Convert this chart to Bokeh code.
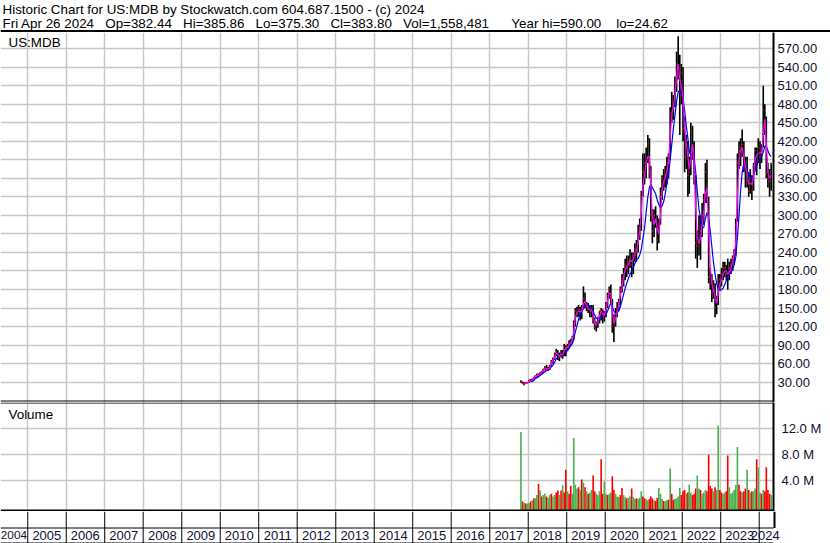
import numpy as np
import pandas as pd
from bokeh.plotting import figure
from bokeh.layouts import column
from bokeh.models import Range1d, LinearAxis, FixedTicker, Grid, PrintfTickFormatter, ColumnDataSource, Span
from bokeh.core.properties import value
from bokeh.embed import file_html
from bokeh.resources import INLINE

# ---------------- data ----------------
title_line = "Historic Chart for US:MDB by Stockwatch.com 604.687.1500 - (c) 2024"
quote_day = "Fri Apr 26 2024"
quote_fields = [("Op", "382.44"), ("Hi", "385.86"), ("Lo", "375.30"), ("Cl", "383.80"),
                ("Vol", "1,558,481"), ("Year hi", "590.00"), ("lo", "24.62")]
symbol = "US:MDB"
volume_title = "Volume"

first_period = "2017-10-16"   # semi-monthly periods (1st / 16th of month)

high = [33, 31, 30, 30, 30,
        34, 35, 36, 38, 41, 44, 44, 46, 48, 52, 56, 58, 55, 58, 66, 70, 78, 84, 82, 78, 82, 82, 92, 90,
        92, 98, 100, 105, 130, 150, 152, 155, 152, 155, 185, 175, 160, 158, 155, 155, 155, 135, 128, 135, 145, 150, 148, 145,
        160, 175, 185, 188, 165, 140, 150, 160, 165, 185, 205, 215, 230, 235, 235, 245, 240, 240, 255, 260, 285, 295, 340, 400,
        400, 410, 430, 425, 380, 310, 310, 315, 300, 295, 345, 365, 375, 380, 395, 400, 475, 500, 495, 525, 565, 590, 560, 545,
        540, 460, 430, 420, 395, 450, 445, 420, 365, 275, 300, 300, 320, 335, 385, 390, 330, 215, 205, 195, 190, 170, 205, 205,
        215, 225, 225, 220, 230, 225, 230, 235, 245, 295, 400, 420, 425, 439, 420, 395, 395, 370, 375, 365, 385, 410, 410, 425,
        420, 415, 510, 480, 460, 385, 375, 385]
low = [29, 27, 25, 27, 28,
       29, 31, 31, 33, 36, 38, 38, 40, 43, 45, 49, 49, 48, 50, 55, 60, 66, 72, 66, 64, 70, 68, 72, 72,
       80, 84, 88, 94, 98, 120, 135, 136, 130, 132, 148, 150, 145, 142, 135, 135, 125, 115, 112, 118, 125, 130, 125, 128,
       135, 150, 165, 155, 110, 95, 120, 135, 145, 155, 175, 185, 195, 200, 205, 215, 200, 205, 225, 225, 240, 260, 275, 330,
       350, 360, 385, 360, 290, 255, 265, 280, 243, 255, 285, 325, 340, 345, 350, 360, 390, 450, 455, 475, 500, 520, 430, 480,
       420, 370, 375, 330, 335, 365, 390, 350, 230, 215, 235, 228, 265, 285, 320, 320, 190, 180, 160, 165, 135, 140, 155, 180,
       185, 195, 200, 195, 180, 195, 205, 210, 220, 235, 290, 375, 380, 395, 370, 345, 345, 330, 335, 325, 340, 375, 365, 385,
       375, 385, 410, 430, 360, 345, 330, 340]
close = [30, 28, 27, 29, 29.5,
         33, 33, 34, 37, 40, 42, 41, 45, 46, 50, 53, 51, 52, 55, 64, 66, 75, 80, 70, 72, 78, 72, 88, 84,
         88, 92, 96, 100, 125, 145, 142, 148, 140, 150, 165, 158, 152, 148, 145, 150, 130, 120, 125, 135, 145, 145, 135, 140,
         155, 170, 180, 165, 120, 130, 140, 150, 160, 180, 195, 205, 220, 215, 225, 230, 220, 235, 245, 240, 270, 280, 330, 370,
         385, 380, 415, 370, 300, 275, 300, 290, 260, 285, 330, 360, 355, 365, 385, 385, 465, 470, 480, 515, 545, 540, 500, 530,
         440, 395, 415, 365, 370, 435, 405, 360, 255, 250, 255, 275, 300, 325, 370, 330, 200, 190, 175, 185, 150, 160, 195, 197,
         205, 215, 215, 205, 200, 215, 220, 230, 240, 285, 385, 405, 410, 415, 375, 385, 355, 340, 360, 340, 380, 405, 385, 410,
         395, 405, 470, 445, 370, 360, 355, 383.8]
ma_fast = [np.nan, np.nan, 28.5, 28, 29,
           31, 33, 33.5, 35.5, 38.5, 41, 41.5, 43, 45.5, 48, 51.5, 52, 51.5, 53.5, 59.5, 65, 70.5, 77.5, 75, 71, 75, 75, 80, 86,
           86, 90, 94, 98, 112, 135, 143, 145, 144, 145, 157, 161, 155, 150, 147, 147, 140, 125, 122, 128, 138, 145, 140, 138,
           148, 162, 175, 172, 145, 125, 133, 143, 155, 170, 185, 200, 212, 218, 220, 228, 225, 228, 240, 243, 255, 275, 305, 350,
           365, 385, 395, 395, 345, 300, 285, 295, 280, 270, 300, 340, 355, 360, 372, 385, 425, 465, 475, 495, 525, 545, 520, 510,
           490, 440, 415, 395, 375, 390, 415, 385, 310, 265, 255, 262, 285, 305, 335, 345, 280, 215, 190, 180, 168, 158, 175, 190,
           195, 205, 210, 210, 205, 208, 215, 225, 235, 255, 330, 390, 405, 410, 395, 378, 368, 350, 352, 350, 362, 390, 398, 400,
           402, 400, 430, 455, 415, 370, 360, 365]
ma_slow = [np.nan, np.nan, np.nan, np.nan, np.nan,
           np.nan, 30.3, 31.7, 33.3, 35.4, 37.2, 38.8, 41, 42.8, 44.8, 47, 49, 50.4, 52.2, 55, 57.6, 62.4, 68, 71, 72.6, 75, 74.4, 76, 78.8,
           82, 84.8, 89.6, 92, 100, 111.6, 121.6, 132, 140, 145, 149, 152, 153, 154.6, 153.6, 150.6, 145, 138.6, 134, 132, 131, 134, 137, 140,
           140, 145, 152, 158, 152, 145, 142, 142, 146, 152, 162, 172, 182, 190, 198, 205, 210, 215, 222, 228, 230, 236, 245, 262,
           280, 305, 330, 345, 350, 345, 340, 335, 325, 318, 312, 315, 322, 335, 352, 365, 390, 415, 440, 462, 485, 500, 502, 497,
           490, 470, 445, 425, 405, 395, 398, 395, 370, 340, 310, 295, 280, 280, 295, 305, 295, 275, 250, 225, 205, 190, 180, 178,
           180, 182, 188, 195, 200, 205, 208, 212, 220, 232, 265, 300, 340, 370, 385, 380, 372, 368, 362, 360, 365, 372, 380, 388,
           392, 395, 402, 412, 412, 405, 398, 395]
volume_m = [11.5, 0.8, 0.6, 0.5, 0.5,
            0.6, 0.8, 1.0, 1.3, 1.3, 1.8, 3.5, 2.5, 1.6, 1.8, 2.0, 1.6, 1.4, 1.8, 2.0, 1.6, 1.8, 2.2, 2.5, 1.8, 2.5, 3.3, 2.2, 5.7,
            2.4, 2.0, 3.2, 2.0, 10.6, 3.4, 2.8, 3.0, 2.6, 4.2, 3.7, 3.0, 2.4, 2.0, 2.2, 2.6, 4.8, 2.4, 2.0, 1.8, 2.4, 7.3, 2.0, 3.9,
            2.0, 1.8, 2.0, 2.2, 4.7, 2.6, 2.0, 1.6, 1.5, 1.8, 2.9, 1.8, 1.5, 1.3, 1.4, 1.6, 2.8, 1.5, 1.2, 1.3, 1.2, 1.4, 2.4, 1.6,
            1.3, 1.2, 1.0, 1.2, 1.6, 1.3, 1.0, 0.9, 1.4, 2.9, 2.0, 1.2, 0.9, 0.9, 1.0, 1.1, 5.9, 2.0, 1.1, 1.2, 1.3, 1.6, 2.9, 1.8,
            2.4, 2.6, 2.0, 2.2, 3.4, 2.2, 1.8, 2.0, 2.8, 4.8, 2.8, 2.6, 2.0, 2.2, 2.6, 2.4, 8.0, 3.2, 2.8, 2.4, 3.0, 2.6, 12.5, 2.6,
            2.2, 2.0, 2.2, 2.4, 7.9, 3.0, 2.0, 2.2, 2.6, 3.4, 9.2, 3.4, 2.4, 2.2, 2.4, 2.8, 5.7, 2.6, 2.2, 2.4, 2.4, 2.8, 7.3, 6.1,
            2.2, 2.0, 2.6, 2.4, 6.1, 2.6, 2.0, 1.8]
volume_up = [1, 0, 1, 0, 1,
             1, 0, 1, 0, 1, 1, 0, 1, 0, 1, 1, 0, 1, 1, 0, 1, 1, 0, 0, 1, 0, 1, 0, 0,
             1, 0, 0, 1, 1, 1, 1, 0, 1, 0, 1, 0, 1, 0, 1, 1, 0, 0, 1, 1, 1, 0, 0, 1,
             1, 0, 1, 1, 0, 0, 1, 1, 1, 0, 0, 1, 1, 0, 1, 1, 0, 1, 1, 0, 1, 1, 1, 0,
             0, 1, 1, 0, 0, 0, 1, 0, 0, 1, 1, 1, 0, 1, 1, 0, 1, 0, 0, 1, 1, 1, 1, 0,
             0, 0, 1, 0, 1, 1, 0, 0, 0, 1, 1, 0, 1, 1, 1, 0, 0, 0, 0, 1, 0, 1, 1, 0,
             0, 1, 1, 0, 0, 1, 1, 1, 1, 1, 1, 0, 0, 1, 0, 0, 1, 0, 1, 0, 1, 1, 0, 1,
             1, 0, 1, 0, 0, 0, 0, 1]

price_ticks = [30, 60, 90, 120, 150, 180, 210, 240, 270, 300, 330, 360, 390,
               420, 450, 480, 510, 540, 570]
volume_ticks = [4000000, 8000000, 12000000]
volume_tick_labels = ["4.0 M", "8.0 M", "12.0 M"]
year_labels = [2004, 2005, 2006, 2007, 2008, 2009, 2010, 2011, 2012, 2013, 2014,
               2015, 2016, 2017, 2018, 2019, 2020, 2021, 2022, 2023, 2024]
last_date = "2024-04-26"

# ---------------- geometry / style ----------------
W = 830
FRAME_W = 773
TITLE_H, PRICE_H, VOL_H, AXIS_H = 32, 370, 109, 32
PX_PER_YEAR = 38.5
DAY_MS = 86400000.0
MS_PER_PX = 365.2425 * DAY_MS / PX_PER_YEAR
FONT_NAME = "Liberation Sans"
FONT = value(FONT_NAME)
GRID_C = "#c8c8c8"
GRID_W = 1.5
TXT_C = "#000000"
AX_TXT_C = "#101030"
GREEN = "#4caf50"
RED = "#ff0000"
TEXT_LIFT = 4.0   # text glyphs render a little below the requested baseline


def ms(s):
    return pd.Timestamp(s).timestamp() * 1000.0


jan2024 = ms("2024-01-01")
x0 = jan2024 - 758.7 * MS_PER_PX
x1 = x0 + FRAME_W * MS_PER_PX
x1_axis = x0 + W * MS_PER_PX
xr = Range1d(x0, x1)

dates = pd.date_range(first_period, periods=len(close), freq="SMS-16")
x_ms = np.array([(d + pd.Timedelta(days=7.5)).timestamp() * 1000.0 for d in dates])
year_ms = [ms(f"{y}-01-01") for y in year_labels[1:]]

# price scale: 30 sits 349.7 px below the panel top, 0.6178 px per dollar
PX_PER_USD = 0.6178
P30_OFF = 349.7


def price_at(off):
    return 30 + (P30_OFF - off) / PX_PER_USD


# volume scale: zero 104.3 px below the panel top, 6.5 px per million
VOL_ZERO_OFF = 104.3
PX_PER_SHARE = 6.5e-6


def vol_at(off):
    return (VOL_ZERO_OFF - off) / PX_PER_SHARE


common = dict(output_backend="svg", toolbar_location=None, outline_line_color=None,
              background_fill_color="white", border_fill_color="white",
              x_axis_type=None, y_axis_type=None,
              min_border_left=0, min_border_top=0, min_border_bottom=0)

# ---------------- title ----------------
tf = figure(frame_width=W, frame_height=TITLE_H, x_range=Range1d(0, W), y_range=Range1d(0, TITLE_H),
            min_border_right=0, **common)
seps = ["\u00a0" * 3] * 4 + ["\u00a0" * 6, "\u00a0" * 4]
quote_line = quote_day + "\u00a0" * 3 + f"{quote_fields[0][0]}={quote_fields[0][1]}"
for s, (k, v) in zip(seps, quote_fields[1:]):
    quote_line += s + f"{k}={v}"
tf.text(x=[2, 2], y=[TITLE_H - 12.7 + TEXT_LIFT, TITLE_H - 27.3 + TEXT_LIFT], text=[title_line, quote_line],
        text_font=FONT, text_font_size="13.4px", text_color=TXT_C, text_baseline="alphabetic", text_align="left")
tf.quad(left=[0], right=[W], top=[TITLE_H - 29.5], bottom=[TITLE_H - 31.5], fill_color="black", line_color=None)

# ---------------- price panel ----------------
pf = figure(frame_width=FRAME_W, frame_height=PRICE_H, x_range=xr,
            y_range=Range1d(price_at(PRICE_H), price_at(0)),
            min_border_right=W - FRAME_W, **common)
pf.add_layout(Grid(dimension=0, ticker=FixedTicker(ticks=year_ms), grid_line_color=GRID_C, grid_line_width=GRID_W))
pf.add_layout(Grid(dimension=1, ticker=FixedTicker(ticks=price_ticks), grid_line_color=GRID_C, grid_line_width=GRID_W))
pax = LinearAxis(ticker=FixedTicker(ticks=price_ticks), formatter=PrintfTickFormatter(format="%.2f"),
                 axis_line_color="black", axis_line_width=2, major_tick_line_color=None,
                 major_tick_in=0, major_tick_out=0, minor_tick_in=0, minor_tick_out=0,
                 minor_tick_line_color=None, major_label_standoff=4,
                 major_label_text_font=FONT_NAME, major_label_text_font_size="13px",
                 major_label_text_color=AX_TXT_C)
pf.add_layout(pax, "right")

src = ColumnDataSource(dict(x=x_ms, high=high, low=low, close=close, fast=ma_fast, slow=ma_slow))
pf.vbar(x="x", top="high", bottom="low", width=15.5 * DAY_MS, source=src, fill_color="black", line_color=None)
pf.rect(x="x", y="close", width=10 * DAY_MS, height=2.6, source=src, fill_color=RED, line_color=None)
pf.line(x="x", y="slow", source=src, line_color="#0000ff", line_width=1.2)
pf.line(x="x", y="fast", source=src, line_color="#ff00ff", line_width=1.2)
pf.text(x=[x0 + 8 * MS_PER_PX], y=[price_at(14.2 - TEXT_LIFT)], text=[symbol], text_font=FONT,
        text_font_size="13.4px", text_color=TXT_C, text_baseline="alphabetic")
pf.add_layout(Span(location=price_at(368.5), dimension="width", line_color="black", line_width=1))

# ---------------- volume panel ----------------
vf = figure(frame_width=FRAME_W, frame_height=VOL_H, x_range=xr,
            y_range=Range1d(vol_at(VOL_H), vol_at(0)),
            min_border_right=W - FRAME_W, **common)
vf.add_layout(Grid(dimension=0, ticker=FixedTicker(ticks=year_ms), grid_line_color=GRID_C, grid_line_width=GRID_W))
vf.add_layout(Grid(dimension=1, ticker=FixedTicker(ticks=volume_ticks), grid_line_color=GRID_C, grid_line_width=GRID_W))
vax = LinearAxis(ticker=FixedTicker(ticks=volume_ticks),
                 major_label_overrides=dict(zip(volume_ticks, volume_tick_labels)),
                 axis_line_color="black", axis_line_width=2, major_tick_line_color=None,
                 major_tick_in=0, major_tick_out=0, minor_tick_in=0, minor_tick_out=0,
                 minor_tick_line_color=None, major_label_standoff=8,
                 major_label_text_font=FONT_NAME, major_label_text_font_size="13px",
                 major_label_text_color=AX_TXT_C)
vf.add_layout(vax, "right")
vsrc = ColumnDataSource(dict(x=x_ms, vol=[v * 1e6 for v in volume_m],
                             color=[GREEN if u else RED for u in volume_up]))
vf.vbar(x="x", top="vol", bottom=vol_at(VOL_H), width=15.5 * DAY_MS, source=vsrc, fill_color="color", line_color=None)
vf.text(x=[x0 + 8 * MS_PER_PX], y=[vol_at(16 - TEXT_LIFT)], text=[volume_title], text_font=FONT,
        text_font_size="13.4px", text_color=TXT_C, text_baseline="alphabetic")
vf.add_layout(Span(location=vol_at(0.5), dimension="width", line_color="black", line_width=1))
vf.add_layout(Span(location=vol_at(108), dimension="width", line_color="black", line_width=2))

# ---------------- time axis ----------------
af = figure(frame_width=W, frame_height=AXIS_H, x_range=Range1d(x0, x1_axis), y_range=Range1d(0, AXIS_H),
            min_border_right=0, **common)
af.segment(x0=year_ms, y0=0.5, x1=year_ms, y1=AXIS_H, line_color="black", line_width=1)
af.segment(x0=[x0, x0], y0=[AXIS_H - 16.5, 0.5], x1=[x1, x1], y1=[AXIS_H - 16.5, 0.5],
           line_color="black", line_width=1)
af.segment(x0=[x1 + MS_PER_PX], y0=[AXIS_H - 16.5], x1=[x1 + MS_PER_PX], y1=[AXIS_H],
           line_color="black", line_width=2)

mid_years = [ms(f"{y}-07-01") for y in year_labels[1:-1]]
last_year_mid = (ms(f"{year_labels[-1]}-01-01") + ms(last_date)) / 2
label_y = AXIS_H - 27.8 + TEXT_LIFT
af.text(x=mid_years + [last_year_mid], y=label_y, text=[str(y) for y in year_labels[1:]], text_font=FONT,
        text_font_size="13px", text_color=AX_TXT_C, text_align="center", text_baseline="alphabetic")
# first (partial) year: kept inside the left edge
af.text(x=[x0 + 0.3 * MS_PER_PX], y=[label_y], text=[str(year_labels[0])], text_font=FONT,
        text_font_size="11.8px", text_color=AX_TXT_C, text_align="left", text_baseline="alphabetic")

layout = column(tf, pf, vf, af, spacing=0)
open("out.html", "w").write(file_html(layout, INLINE))
